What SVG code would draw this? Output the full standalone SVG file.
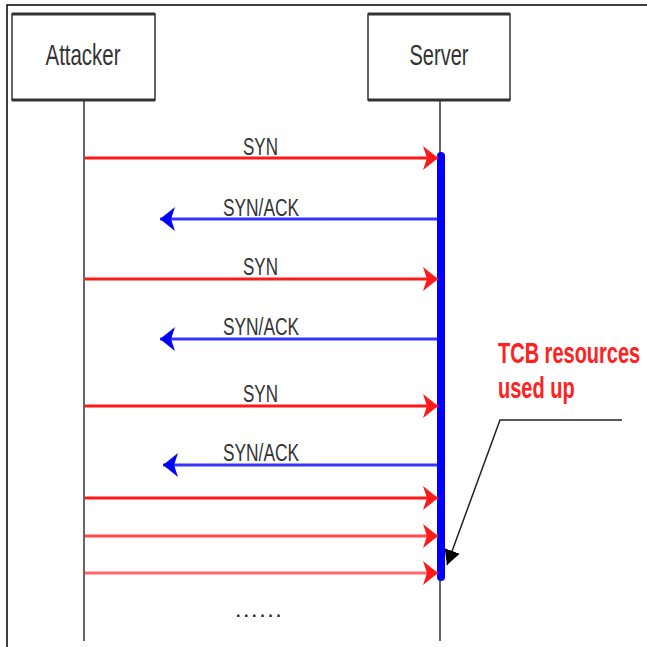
<svg xmlns="http://www.w3.org/2000/svg" width="647" height="647" viewBox="0 0 647 647">
  <style>
    .frame { stroke: #000; stroke-width: 1.5; fill: none; }
    .box { fill: #fff; stroke: #333; stroke-width: 1.5; }
    .boxedge { stroke: #333; stroke-width: 3; }
    .life { stroke: #333; stroke-width: 1.5; }
    .name { font-family: "Liberation Sans", Arial, sans-serif; font-size: 29px; fill: #333; text-anchor: middle; }
    .lbl { font-family: "Liberation Sans", Arial, sans-serif; font-size: 23px; fill: #333; }
    .syn { stroke: #ff1a1a; stroke-width: 3; marker-end: url(#redHead); }
    .ack { stroke: #3535ff; stroke-width: 3; marker-end: url(#blueHead); }
    .note { font-family: "Liberation Sans", Arial, sans-serif; font-size: 20px; font-weight: bold; fill: #ff2020; }
  </style>
  <defs>
    <marker id="redHead" markerUnits="userSpaceOnUse" markerWidth="16" markerHeight="26" viewBox="0 -13 16 26" refX="15" refY="0" orient="auto">
      <path d="M0,-12 L15,0 L0,12 L4,0 z" fill="#ff1a1a"/>
    </marker>
    <marker id="blueHead" markerUnits="userSpaceOnUse" markerWidth="16" markerHeight="26" viewBox="0 -13 16 26" refX="15" refY="0" orient="auto">
      <path d="M0,-12 L15,0 L0,12 L4,0 z" fill="#0000ff"/>
    </marker>
    <marker id="blackHead" markerUnits="userSpaceOnUse" markerWidth="16" markerHeight="20" viewBox="0 -10 16 20" refX="15" refY="0" orient="auto">
      <path d="M0,-8 L15,0 L0,8 z" fill="#000"/>
    </marker>
  </defs>

  <rect width="647" height="647" fill="#fff"/>
  <!-- outer frame: top and left edges -->
  <polyline class="frame" points="7,647 7,5 647,5"/>

  <!-- participants -->
  <g id="attacker">
    <rect class="box" x="12" y="14" width="143" height="86"/>
    <line class="boxedge" x1="12" y1="14" x2="155" y2="14"/>
    <line class="boxedge" x1="12" y1="100" x2="155" y2="100"/>
    <text class="name" x="83" y="65" textLength="75" lengthAdjust="spacingAndGlyphs">Attacker</text>
    <line class="life" x1="84" y1="100" x2="84" y2="641"/>
  </g>
  <g id="server">
    <rect class="box" x="368" y="14" width="142" height="86"/>
    <line class="boxedge" x1="368" y1="14" x2="510" y2="14"/>
    <line class="boxedge" x1="368" y1="100" x2="510" y2="100"/>
    <text class="name" x="439" y="65" textLength="59" lengthAdjust="spacingAndGlyphs">Server</text>
    <line class="life" x1="440" y1="100" x2="440" y2="641"/>
  </g>

  <!-- server activation bar -->
  <g id="activation">
    <line x1="441" y1="156" x2="441" y2="577" stroke="#0000ff" stroke-width="8" stroke-linecap="round"/>
  </g>

  <!-- messages -->
  <g id="connectors">
    <line class="syn" x1="85" y1="158" x2="438" y2="158"/>
    <line class="ack" x1="437" y1="219" x2="160" y2="219"/>
    <line class="syn" x1="85" y1="279" x2="438" y2="279"/>
    <line class="ack" x1="437" y1="339" x2="160" y2="339"/>
    <line class="syn" x1="85" y1="406" x2="438" y2="406"/>
    <line class="ack" x1="437" y1="465" x2="163" y2="465"/>
    <line class="syn" x1="85" y1="498" x2="438" y2="498"/>
    <line class="syn" x1="85" y1="536" x2="438" y2="536" stroke-opacity="0.8"/>
    <line class="syn" x1="85" y1="573" x2="438" y2="573" stroke-opacity="0.65"/>
    <!-- callout leader -->
    <polyline points="622,420 500,420 447,565" fill="none" stroke="#222" stroke-width="1.5" marker-end="url(#blackHead)"/>
  </g>

  <g id="labels">
    <text class="lbl" x="243" y="155" textLength="35" lengthAdjust="spacingAndGlyphs">SYN</text>
    <text class="lbl" x="223" y="216" textLength="76" lengthAdjust="spacingAndGlyphs">SYN/ACK</text>
    <text class="lbl" x="243" y="275" textLength="35" lengthAdjust="spacingAndGlyphs">SYN</text>
    <text class="lbl" x="223" y="335" textLength="76" lengthAdjust="spacingAndGlyphs">SYN/ACK</text>
    <text class="lbl" x="243" y="402" textLength="35" lengthAdjust="spacingAndGlyphs">SYN</text>
    <text class="lbl" x="223" y="461" textLength="76" lengthAdjust="spacingAndGlyphs">SYN/ACK</text>
    <text x="236" y="617" font-family="Liberation Sans, Arial, sans-serif" font-size="16" font-weight="bold" fill="#222" letter-spacing="3.6">......</text>
  </g>

  <!-- condensed bold annotation: narrow font size, stretched vertically -->
  <g id="note">
    <text class="note" transform="translate(498,363) scale(1,1.45)">TCB resources</text>
    <text class="note" transform="translate(498,398) scale(1,1.45)">used up</text>
  </g>
</svg>
